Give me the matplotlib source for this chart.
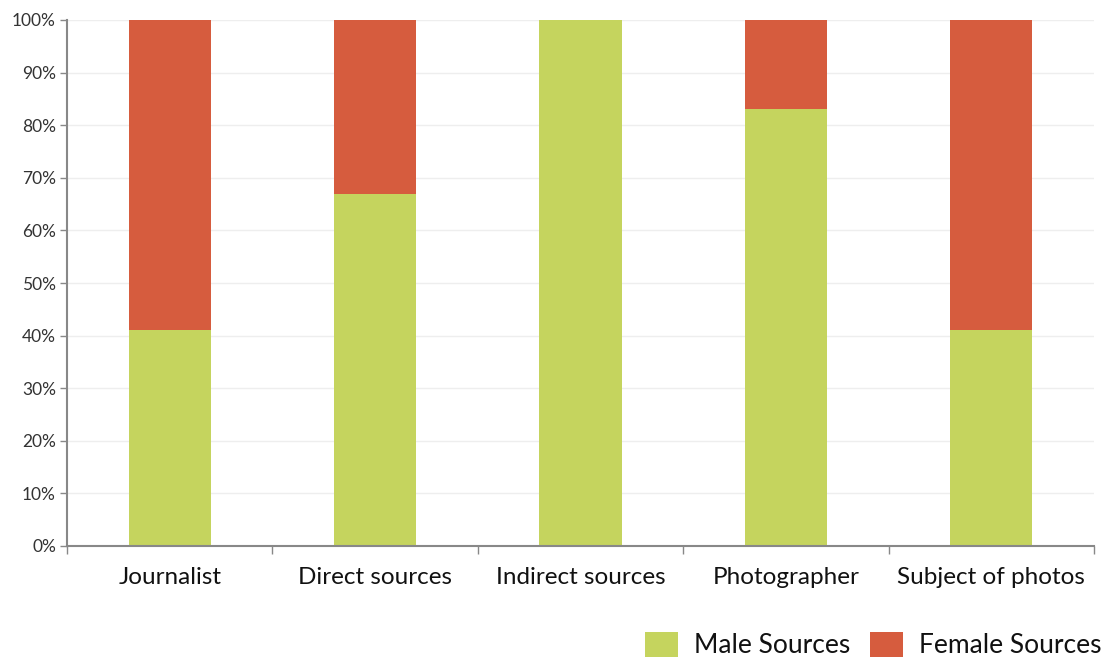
import numpy as np
import matplotlib
import matplotlib.pyplot as plt

# --- Data ---
categories = ["Journalist", "Direct sources", "Indirect sources", "Photographer", "Subject of photos"]
male_pct = [41, 67, 100, 83, 41]
female_pct = [59, 33, 0, 17, 59]

MALE_COLOR = "#c5d45e"
FEMALE_COLOR = "#d65c3e"

plt.rcParams["font.family"] = ["Lato", "DejaVu Sans"]

fig = plt.figure(figsize=(11.04, 6.57), dpi=100)
ax = fig.add_axes([67 / 1104, 111 / 657, 1027 / 1104, 526 / 657])

x = np.arange(len(categories))
ax.bar(x, male_pct, width=0.4, color=MALE_COLOR, label="Male Sources", zorder=2)
ax.bar(x, female_pct, width=0.4, bottom=male_pct, color=FEMALE_COLOR,
       label="Female Sources", zorder=2)

ax.set_xlim(-0.5, len(categories) - 0.5)
ax.set_ylim(0, 100)

# y axis
ax.set_yticks(np.arange(0, 101, 10))
ax.set_yticklabels([f"{v}%" for v in range(0, 101, 10)], fontsize=12.5, color="#333333")
ax.yaxis.grid(True, color="#eeeeee", linewidth=1, zorder=0)
ax.tick_params(axis="y", length=5, color="#888888", width=1, pad=3)

# x axis: boundary ticks, labels at centers
ax.set_xticks(np.arange(-0.5, len(categories), 1.0))
ax.set_xticklabels([""] * (len(categories) + 1))
ax.set_xticks(x, minor=True)
ax.set_xticklabels(categories, minor=True, fontsize=17.5, color="#111111")
ax.tick_params(axis="x", which="major", length=6, color="#888888", width=1)
ax.tick_params(axis="x", which="minor", length=0, pad=15)

for side in ("top", "right"):
    ax.spines[side].set_visible(False)
for side in ("left", "bottom"):
    ax.spines[side].set_color("#888888")
    ax.spines[side].set_linewidth(1.5)

leg = fig.legend(loc="lower right", bbox_to_anchor=(1.012, -0.026), ncol=2, frameon=False,
                 fontsize=19, handlelength=1.25, handleheight=1.1, handletextpad=0.6,
                 columnspacing=0.75, borderaxespad=0.2)
for t in leg.get_texts():
    t.set_color("#111111")

fig.savefig("out.png", dpi=100)
